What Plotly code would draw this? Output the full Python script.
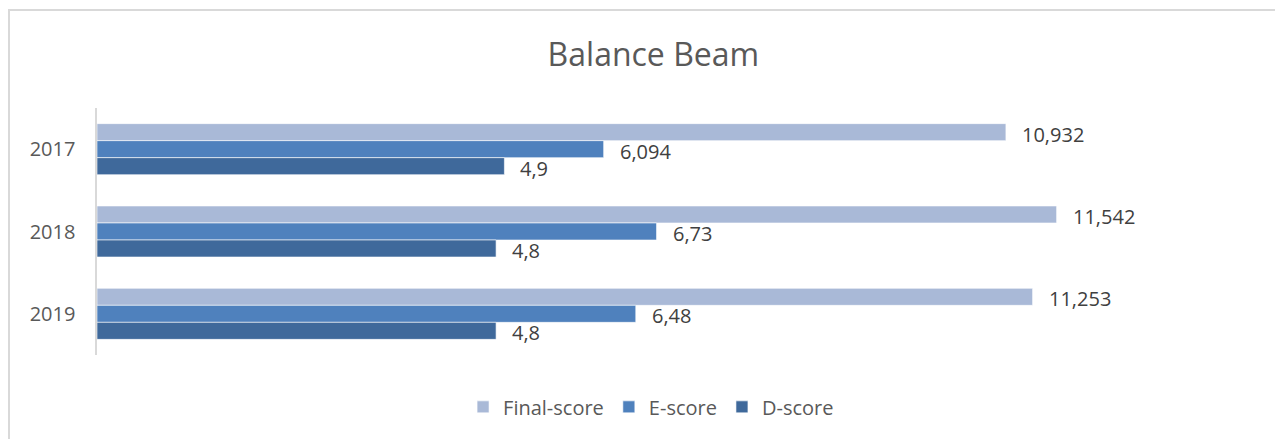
import plotly.graph_objects as go

years = ["2017", "2018", "2019"]
final_score = [10.932, 11.542, 11.253]
e_score = [6.094, 6.73, 6.48]
d_score = [4.9, 4.8, 4.8]

series = [
    ("Final-score", final_score, "#A9B9D7"),
    ("E-score", e_score, "#4F81BD"),
    ("D-score", d_score, "#3F699B"),
]

FONT = "'Open Sans', sans-serif"
GREY = "#595959"

# the page body adds an 8px offset at top/left, so shrink the figure by that much
W, H, OFF = 1283, 439, 8


def fmt(v):
    # comma as decimal separator, like the source
    return f"{v:g}".replace(".", ",")


fig = go.Figure()
for name, vals, color in series:
    fig.add_trace(go.Bar(
        y=years, x=vals, name=name, orientation="h",
        marker_color=color, marker_line_color="white", marker_line_width=0.6,
    ))

# value labels beside each bar end (Final on top, D at the bottom)
for i, (name, vals, color) in enumerate(series):
    for j, v in enumerate(vals):
        fig.add_annotation(
            x=v, y=j, yshift=(1 - i) * 17 - 2,
            text=fmt(v), showarrow=False, xanchor="left", xshift=14,
            font=dict(family=FONT, size=20, color="#404040"),
        )

fig.update_layout(
    width=W - OFF, height=H - OFF,
    margin=dict(l=97 - OFF, r=22, t=108 - OFF, b=84, autoexpand=False),
    paper_bgcolor="white", plot_bgcolor="white",
    barmode="group", bargap=0.38, bargroupgap=0,
    title=dict(text="Balance Beam", x=0.478, xref="paper", xanchor="center",
               y=1 - (55 - OFF) / (H - OFF), yanchor="middle",
               font=dict(family=FONT, size=32, color=GREY)),
    legend=dict(orientation="h", x=0.476, xanchor="center", y=-0.21,
                yanchor="middle", traceorder="normal",
                font=dict(family=FONT, size=20, color=GREY)),
    showlegend=True,
)
fig.update_xaxes(range=[0, 14], visible=False)
fig.update_yaxes(type="category", categoryorder="array", categoryarray=years,
                 range=[2.5, -0.5], showline=True,
                 linecolor="#D9D9D9", linewidth=2, ticks="", showgrid=False,
                 ticksuffix="   ",
                 tickfont=dict(family=FONT, size=20, color=GREY))

# outer chart frame
fig.add_shape(type="rect", xref="paper", yref="paper",
              x0=-0.0756, y0=-0.6, x1=1.1, y1=1.397,
              line=dict(color="#D9D9D9", width=2), layer="below")

fig.write_html("out.html")
